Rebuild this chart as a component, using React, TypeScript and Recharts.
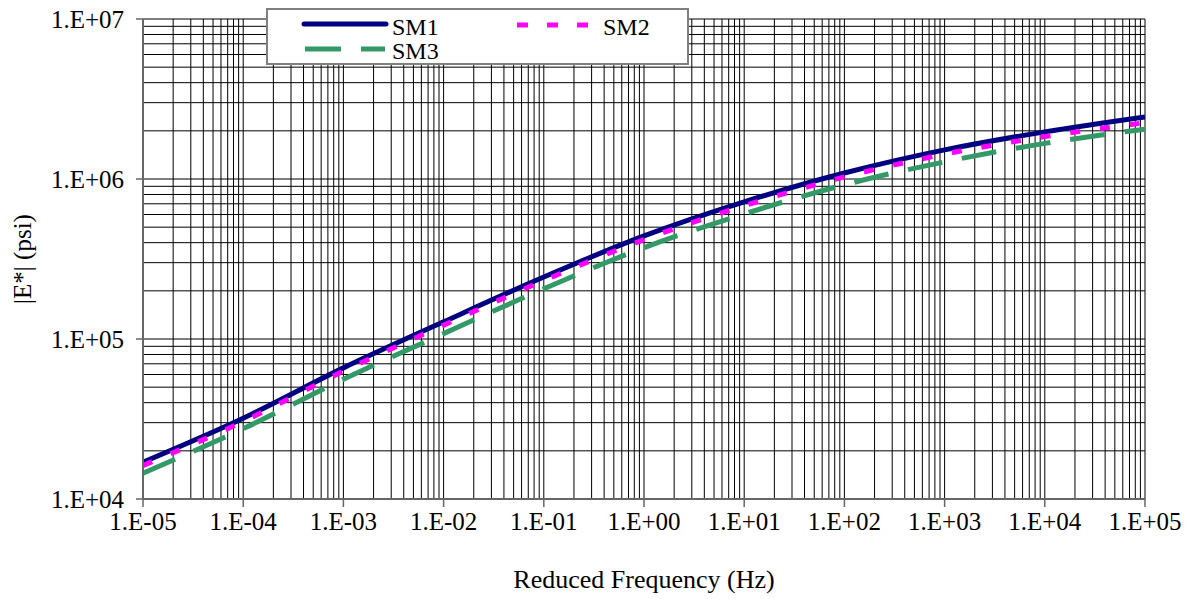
import { Label, Line, LineChart, ReferenceLine, XAxis, YAxis } from "recharts";

// reduced frequency (Hz), one point per decade
const frequencies = [1e-5, 1e-4, 1e-3, 1e-2, 1e-1, 1e0, 1e1, 1e2, 1e3, 1e4, 1e5];

// |E*| (psi)
const sm1 = [17000, 32000, 66000, 128000, 244000, 441000, 720000, 1090000, 1520000, 1970000, 2440000];
const sm2 = [16200, 30500, 63000, 122000, 232000, 418000, 680000, 1030000, 1430000, 1840000, 2250000];
const sm3 = [14500, 27500, 56000, 108000, 206000, 372000, 605000, 920000, 1280000, 1670000, 2050000];

const xMajorTicks = [1e-5, 1e-4, 1e-3, 1e-2, 1e-1, 1e0, 1e1, 1e2, 1e3, 1e4, 1e5];
const yMajorTicks = [1e4, 1e5, 1e6, 1e7];

const FONT = "Liberation Serif";

const data = frequencies.map((f, i) => ({ f, sm1: sm1[i], sm2: sm2[i], sm3: sm3[i] }));

// 1..9 within each decade, for the grid
function withMinor(majors: number[]) {
  const out: number[] = [];
  majors.slice(0, -1).forEach((m) => {
    for (let k = 1; k < 10; k++) out.push(m * k);
  });
  out.push(majors[majors.length - 1]);
  return out;
}

const xGridValues = withMinor(xMajorTicks);
const yGridValues = withMinor(yMajorTicks);

function sci(v: number) {
  const e = Math.round(Math.log10(v));
  return `1.E${e < 0 ? "-" : "+"}${String(Math.abs(e)).padStart(2, "0")}`;
}

function LegendBox() {
  return (
    <div
      style={{
        position: "absolute",
        left: 266,
        top: 8,
        width: 423,
        height: 57,
        boxSizing: "border-box",
        border: "2px solid #808080",
        background: "#fff",
      }}
    >
      <svg width={419} height={53} style={{ position: "absolute", left: 0, top: 0 }}>
        <g transform="translate(-268,-10)" style={{ fontFamily: FONT, fontSize: 24 }} fill="#000">
          <line x1={304} x2={386} y1={24} y2={24} stroke="#000080" strokeWidth={5} strokeLinecap="round" />
          <text x={392} y={35}>SM1</text>
          <line x1={517} x2={588} y1={25} y2={25} stroke="#FF00FF" strokeWidth={5} strokeDasharray="11 19" />
          <text x={603} y={35}>SM2</text>
          <line x1={305} x2={385} y1={49} y2={49} stroke="#339966" strokeWidth={5} strokeDasharray="36 20" />
          <text x={392} y={59}>SM3</text>
        </g>
      </svg>
    </div>
  );
}

export default function App() {
  return (
    <div style={{ position: "absolute", left: 0, top: 0, width: 1191, height: 599, background: "#fff" }}>
      <LineChart width={1191} height={599} data={data} margin={{ top: 19, right: 46, bottom: 40, left: 0 }}>
        {xGridValues.map((v) => (
          <ReferenceLine key={`gx${v}`} x={v} stroke="#000" strokeWidth={1} zIndex={-100} />
        ))}
        {yGridValues.map((v) => (
          <ReferenceLine key={`gy${v}`} y={v} stroke="#000" strokeWidth={1} zIndex={-100} />
        ))}
        <XAxis
          dataKey="f"
          type="number"
          scale="log"
          domain={[1e-5, 1e5]}
          ticks={xMajorTicks}
          tickFormatter={sci}
          allowDataOverflow
          height={60}
          tickSize={8}
          tickMargin={5}
          axisLine={{ stroke: "#666", strokeWidth: 2 }}
          tickLine={{ stroke: "#666", strokeWidth: 1.5 }}
          tick={{ fill: "#000", fontSize: 25, fontFamily: FONT }}
          interval={0}
        >
          <Label
            content={({ viewBox }: any) => (
              <text
                x={viewBox.x + viewBox.width / 2}
                y={588}
                textAnchor="middle"
                style={{ fontFamily: FONT, fontSize: 26 }}
                fill="#000"
              >
                Reduced Frequency (Hz)
              </text>
            )}
          />
        </XAxis>
        <YAxis
          type="number"
          scale="log"
          domain={[1e4, 1e7]}
          ticks={yMajorTicks}
          tickFormatter={sci}
          allowDataOverflow
          width={143}
          tickSize={7}
          tickMargin={12}
          axisLine={{ stroke: "#666", strokeWidth: 2 }}
          tickLine={{ stroke: "#666", strokeWidth: 1.5 }}
          tick={{ fill: "#000", fontSize: 25, fontFamily: FONT }}
          interval={0}
        >
          <Label
            content={({ viewBox }: any) => {
              const cx = viewBox.x + 22;
              const cy = viewBox.y + viewBox.height / 2;
              return (
                <text
                  x={cx}
                  y={cy}
                  transform={`rotate(-90, ${cx}, ${cy})`}
                  textAnchor="middle"
                  dominantBaseline="central"
                  style={{ fontFamily: FONT, fontSize: 25 }}
                  fill="#000"
                >
                  |E*| (psi)
                </text>
              );
            }}
          />
        </YAxis>
        <Line
          type="monotone"
          dataKey="sm1"
          stroke="#000080"
          strokeWidth={5}
          dot={false}
          isAnimationActive={false}
        />
        <Line
          type="monotone"
          dataKey="sm2"
          stroke="#FF00FF"
          strokeWidth={5}
          strokeDasharray="10 20"
          dot={false}
          isAnimationActive={false}
        />
        <Line
          type="monotone"
          dataKey="sm3"
          stroke="#339966"
          strokeWidth={5}
          strokeDasharray="35 20"
          dot={false}
          isAnimationActive={false}
        />
      </LineChart>
      <LegendBox />
    </div>
  );
}
